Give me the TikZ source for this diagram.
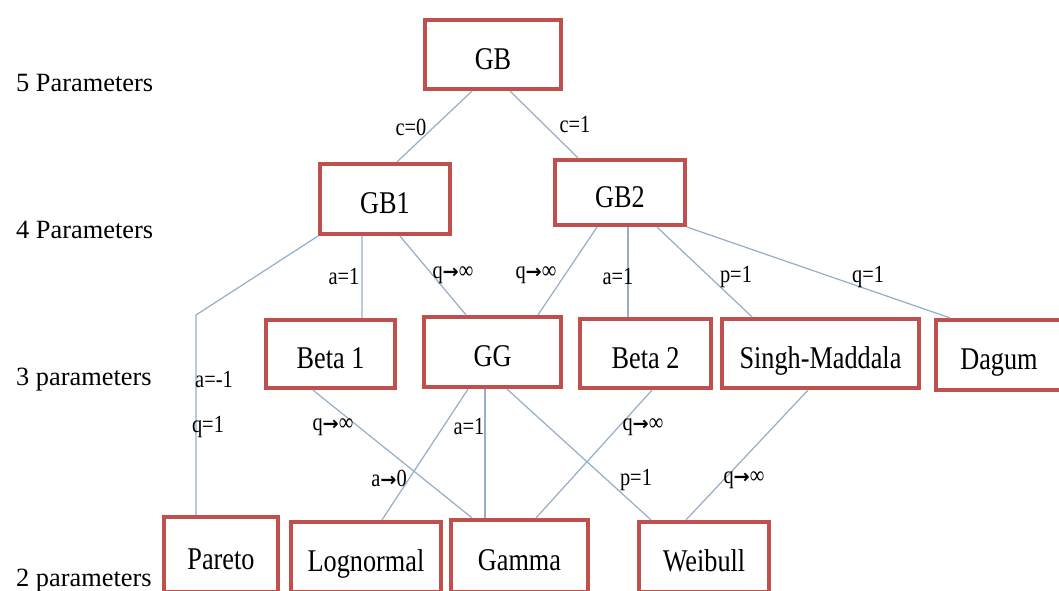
\documentclass[tikz,border=0pt]{standalone}
\usepackage{fontspec}
\setmainfont{Liberation Serif}
\newfontfamily\narrowfont[FakeStretch=0.83]{Liberation Serif}
\newfontfamily\arrowfont{DejaVu Sans}
\usetikzlibrary{calc}

\definecolor{boxred}{RGB}{192,80,77}
\definecolor{linkblue}{RGB}{150,175,200}
\newcommand{\toarrow}{{\arrowfont\bfseries\fontsize{11}{13}\selectfont →}}

\begin{document}
\begin{tikzpicture}[x=0.02cm,y=-0.02cm,
	dbox/.style={draw=boxred,line width=2.4pt,fill=white,minimum height=1.4cm,
		text height=0.75cm,text depth=0.15cm,font=\narrowfont\fontsize{18}{20}\selectfont},
	link/.style={draw=linkblue,line width=0.7pt},
	cond/.style={font=\narrowfont\fontsize{14}{16}\selectfont,inner sep=1pt},
	level/.style={anchor=west,font=\fontsize{15}{17}\selectfont}]
	\useasboundingbox (0,0) rectangle (1059,591);

	%Levels
	\node[level] (five) at (10,83) {5 Parameters};
	\node[level] (four) at (10,230) {4 Parameters};
	\node[level] (three) at (10,380) {3 parameters};
	\node[level] (two) at (10,581) {2 parameters};

	%Boxes
	\node[dbox,minimum width=2.72cm,minimum height=1.38cm] (gb) at (493,54.5) {GB};
	\node[dbox,minimum width=2.6cm] (gbone) at (385,199) {GB1};
	\node[dbox,minimum width=2.6cm,minimum height=1.3cm] (gbtwo) at (620,192.5) {GB2};
	\node[dbox,minimum width=2.58cm,minimum height=1.36cm] (betaone) at (330.5,354) {Beta 1};
	\node[dbox,minimum width=2.74cm] (gg) at (492.5,352) {GG};
	\node[dbox,minimum width=2.62cm,minimum height=1.38cm] (betatwo) at (645.5,353.5) {Beta 2};
	\node[dbox,minimum width=3.94cm,minimum height=1.38cm] (singh) at (820.5,353.5) {Singh-Maddala};
	\node[dbox,minimum width=2.52cm] (dagum) at (999,355) {Dagum};
	\node[dbox,minimum width=2.28cm,minimum height=1.5cm] (pareto) at (221,554.5) {Pareto};
	\node[dbox,minimum width=3.0cm] (lognormal) at (366,557) {Lognormal};
	\node[dbox,minimum width=2.74cm,minimum height=1.44cm] (gamma) at (519.5,556) {Gamma};
	\node[dbox,minimum width=2.6cm] (weibull) at (704,557) {Weibull};

	%Lines
	\coordinate (bend) at (196,315);
	\draw[link] ($(gb.south)+(-21,0)$) -- ($(gbone.north)+(12,0)$);%c=0
	\draw[link] ($(gb.south)+(17,0)$) -- ($(gbtwo.north)+(-42,0)$);%c=1
	\draw[link] (gbone.south west) -- (bend) -- ($(pareto.north)+(-25,0)$);%pareto
	\draw[link] ($(gbone.south)+(-23,0)$) -- ($(betaone.north)+(31.5,0)$);%beta1
	\draw[link] ($(gbone.south)+(15,0)$) -- ($(gg.north)+(-26.5,0)$);%gg
	\draw[link] ($(gbtwo.south)+(-23,0)$) -- ($(gg.north)+(45.5,0)$);%gg
	\draw[link] ($(gbtwo.south)+(8,0)$) -- ($(betatwo.north)+(-17.5,0)$);%beta2
	\draw[link] ($(gbtwo.south)+(37,0)$) -- ($(singh.north)+(-68.5,0)$);%singh
	\draw[link] (gbtwo.south east) -- ($(dagum.north)+(-49,0)$);%dagum
	\draw[link] ($(betaone.south)+(-17.5,0)$) -- ($(gamma.north)+(-47.5,0)$);%gamma
	\draw[link] ($(gg.south)+(-24.5,0)$) -- ($(lognormal.north)+(16,0)$);%lognormal
	\draw[link] ($(gg.south)+(-7.5,0)$) -- ($(gamma.north)+(-34.5,0)$);%gamma
	\draw[link] ($(gg.south)+(14.5,0)$) -- ($(weibull.north)+(-53,0)$);%weibull
	\draw[link] ($(betatwo.south)+(6.5,0)$) -- ($(gamma.north)+(16.5,0)$);%gamma
	\draw[link] ($(singh.south)+(-12.5,0)$) -- ($(weibull.north)+(-18,0)$);%weibull

	%Conditions
	\node[cond] (czero) at (411,127) {c=0};
	\node[cond] (cone) at (575,125) {c=1};
	\node[cond] (aone1) at (344,277) {a=1};
	\node[cond] (qinf1) at (453,275) {q\toarrow∞};
	\node[cond] (qinf2) at (536,275) {q\toarrow∞};
	\node[cond] (aone2) at (618,277) {a=1};
	\node[cond] (pone1) at (736,277) {p=1};
	\node[cond] (qone1) at (868,277) {q=1};
	\node[cond] (amone) at (214,380) {a=-1};
	\node[cond] (qone2) at (208,427) {q=1};
	\node[cond] (qinf3) at (333,427) {q\toarrow∞};
	\node[cond] (azero) at (389,478) {a\toarrow0};
	\node[cond] (aone3) at (469,427) {a=1};
	\node[cond] (qinf4) at (643,427) {q\toarrow∞};
	\node[cond] (pone2) at (636,480) {p=1};
	\node[cond] (qinf5) at (744,480) {q\toarrow∞};
\end{tikzpicture}
\end{document}
